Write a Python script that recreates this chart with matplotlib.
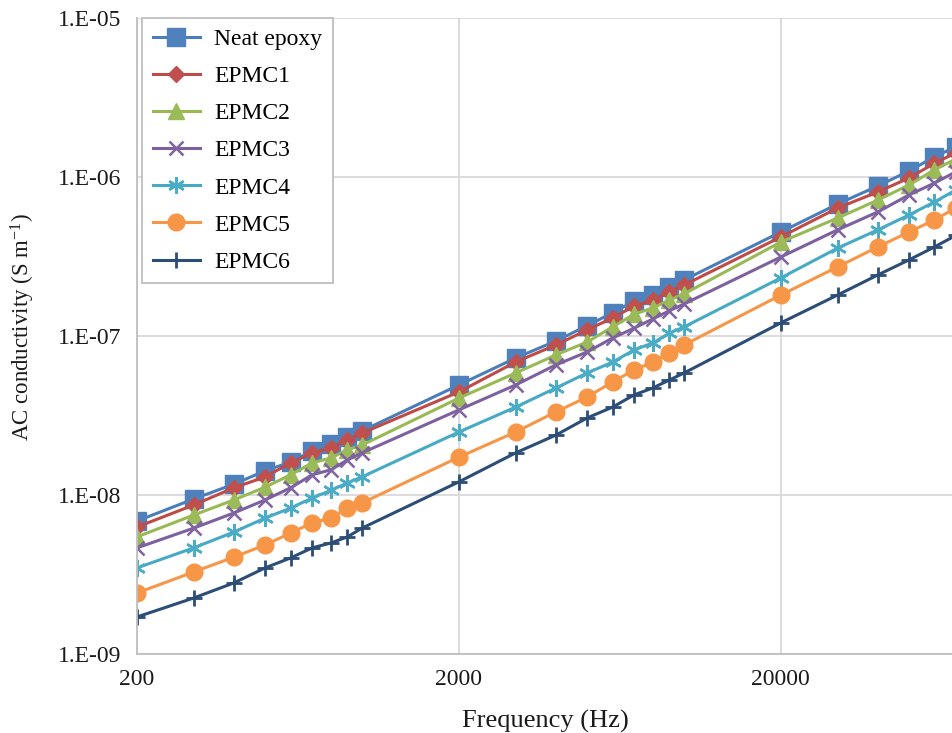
import numpy as np
import matplotlib
matplotlib.use("Agg")
import matplotlib.pyplot as plt
from matplotlib.ticker import FixedLocator, FuncFormatter, NullLocator

plt.rcParams['font.family'] = ['Liberation Serif', 'DejaVu Serif']
plt.rcParams['mathtext.fontset'] = 'custom'
plt.rcParams['mathtext.rm'] = 'Liberation Serif'
plt.rcParams['mathtext.it'] = 'Liberation Serif:italic'

# frequencies (Hz)
freq = [200, 300, 400, 500, 600, 700, 800, 900, 1000,
        2000, 3000, 4000, 5000, 6000, 7000, 8000, 9000, 10000,
        20000, 30000, 40000, 50000, 60000, 70000]

# AC conductivity (S/m)
neat_epoxy = [6.86e-9, 9.44e-9, 1.17e-8, 1.42e-8, 1.61e-8, 1.89e-8, 2.09e-8, 2.32e-8, 2.53e-8,
              4.92e-8, 7.27e-8, 9.30e-8, 1.16e-7, 1.40e-7, 1.66e-7, 1.81e-7, 2.03e-7, 2.25e-7,
              4.51e-7, 6.76e-7, 8.78e-7, 1.09e-6, 1.34e-6, 1.55e-6]
epmc1 = [6.29e-9, 8.65e-9, 1.11e-8, 1.30e-8, 1.59e-8, 1.84e-8, 1.98e-8, 2.22e-8, 2.45e-8,
         4.45e-8, 6.86e-8, 8.78e-8, 1.09e-7, 1.30e-7, 1.54e-7, 1.68e-7, 1.89e-7, 2.09e-7,
         4.20e-7, 6.38e-7, 8.05e-7, 9.86e-7, 1.22e-6, 1.42e-6]
epmc2 = [5.45e-9, 7.48e-9, 9.31e-9, 1.12e-8, 1.34e-8, 1.59e-8, 1.71e-8, 1.92e-8, 2.06e-8,
         4.07e-8, 5.85e-8, 7.60e-8, 9.16e-8, 1.14e-7, 1.37e-7, 1.50e-7, 1.68e-7, 1.84e-7,
         3.90e-7, 5.52e-7, 7.16e-7, 8.91e-7, 1.11e-6, 1.30e-6]
epmc3 = [4.65e-9, 6.19e-9, 7.71e-9, 9.31e-9, 1.11e-8, 1.34e-8, 1.44e-8, 1.66e-8, 1.84e-8,
         3.43e-8, 4.92e-8, 6.58e-8, 7.93e-8, 9.71e-8, 1.12e-7, 1.28e-7, 1.44e-7, 1.59e-7,
         3.14e-7, 4.65e-7, 6.03e-7, 7.71e-7, 9.16e-7, 1.08e-6]
epmc4 = [3.48e-9, 4.65e-9, 5.85e-9, 7.16e-9, 8.28e-9, 9.57e-9, 1.07e-8, 1.19e-8, 1.30e-8,
         2.49e-8, 3.57e-8, 4.71e-8, 5.85e-8, 6.85e-8, 8.17e-8, 9.04e-8, 1.04e-7, 1.14e-7,
         2.32e-7, 3.57e-7, 4.65e-7, 5.77e-7, 6.97e-7, 8.30e-7]
epmc5 = [2.42e-9, 3.28e-9, 4.07e-9, 4.85e-9, 5.77e-9, 6.67e-9, 7.16e-9, 8.28e-9, 8.91e-9,
         1.73e-8, 2.49e-8, 3.33e-8, 4.13e-8, 5.14e-8, 6.11e-8, 6.85e-8, 7.82e-8, 8.78e-8,
         1.81e-7, 2.72e-7, 3.63e-7, 4.51e-7, 5.37e-7, 6.40e-7]
epmc6 = [1.71e-9, 2.25e-9, 2.80e-9, 3.48e-9, 4.02e-9, 4.65e-9, 4.99e-9, 5.45e-9, 6.19e-9,
         1.21e-8, 1.84e-8, 2.38e-8, 3.05e-8, 3.57e-8, 4.26e-8, 4.71e-8, 5.28e-8, 5.85e-8,
         1.21e-7, 1.81e-7, 2.42e-7, 3.01e-7, 3.63e-7, 4.30e-7]

labels = ['Neat epoxy', 'EPMC1', 'EPMC2', 'EPMC3', 'EPMC4', 'EPMC5', 'EPMC6']
x_ticks = [200, 2000, 20000]
y_ticks = [1e-9, 1e-8, 1e-7, 1e-6, 1e-5]

series = [neat_epoxy, epmc1, epmc2, epmc3, epmc4, epmc5, epmc6]
styles = [
    dict(color='#4A7EBB', mfc='#4F81BD', mec='#4F81BD', marker='s', ms=12.5),
    dict(color='#BE4B48', mfc='#C0504D', mec='#C0504D', marker='D', ms=8.5),
    dict(color='#98B954', mfc='#9BBB59', mec='#9BBB59', marker='^', ms=11),
    dict(color='#7D60A0', mfc='#8064A2', mec='#8064A2', marker='x', ms=10, mew=1.8),
    dict(color='#46AAC5', mfc='#4BACC6', mec='#4BACC6', marker=(6, 2, 0), ms=12, mew=1.8),
    dict(color='#F79646', mfc='#F79646', mec='#F79646', marker='o', ms=12),
    dict(color='#2C4D75', mfc='#2C4D75', mec='#2C4D75', marker='+', ms=12, mew=2),
]

fig = plt.figure(figsize=(9.53, 7.33), dpi=100)
ax = fig.add_axes([137 / 953, 79 / 733, 816 / 953, 636 / 733])

for y, lab, st in zip(series, labels, styles):
    ax.plot(freq, y, label=lab, lw=2.2, **st)

ax.set_xscale('log')
ax.set_yscale('log')
ax.set_xlim(200, 68500)
ax.set_ylim(1e-9, 1e-5)

ax.xaxis.set_major_locator(FixedLocator(x_ticks))
ax.xaxis.set_minor_locator(NullLocator())
ax.xaxis.set_major_formatter(FuncFormatter(lambda v, p: '%d' % v))
ax.yaxis.set_major_locator(FixedLocator(y_ticks))
ax.yaxis.set_minor_locator(NullLocator())
ax.yaxis.set_major_formatter(FuncFormatter(lambda v, p: '1.E-%02d' % round(-np.log10(v))))

ax.tick_params(axis='both', length=0, labelsize=17, colors='#1a1a1a')
ax.tick_params(axis='x', pad=11)
ax.tick_params(axis='y', pad=11)

ax.grid(True, color='#D9D9D9', lw=1.3)
ax.set_axisbelow(True)
for side in ['top', 'right']:
    ax.spines[side].set_visible(False)
for side in ['left', 'bottom']:
    ax.spines[side].set_color('#BFBFBF')
    ax.spines[side].set_linewidth(1.3)

ax.set_xlabel('Frequency (Hz)', fontsize=19, labelpad=14, color='#1a1a1a')
ax.set_ylabel(r'AC conductivity (S m$^{-1}$)', fontsize=16.5, color='#1a1a1a')
ax.yaxis.set_label_coords(-0.122, 0.514)

leg = ax.legend(loc='upper left', bbox_to_anchor=(0.006, 1.0), borderaxespad=0,
                fontsize=17, frameon=True, fancybox=False, handlelength=2.0,
                labelspacing=0.66, borderpad=0.45, handletextpad=0.6, framealpha=1)
leg.get_frame().set_edgecolor('#BFBFBF')
leg.get_frame().set_linewidth(1.3)

fig.savefig('out.png', dpi=100)
